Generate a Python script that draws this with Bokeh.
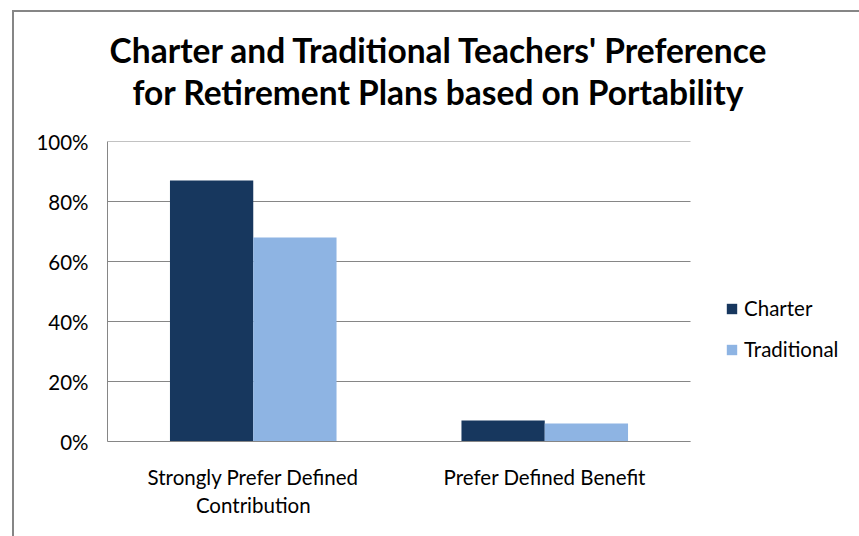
from bokeh.plotting import figure
from bokeh.layouts import column
from bokeh.models import (Range1d, FixedTicker, NumeralTickFormatter,
                          Legend, LegendItem, Div, ColumnDataSource)
from bokeh.transform import dodge
from bokeh.embed import file_html
from bokeh.resources import INLINE

# ---- data ----
categories = ["Strongly Prefer Defined Contribution", "Prefer Defined Benefit"]
category_labels = ["Strongly Prefer Defined\nContribution", "Prefer Defined Benefit"]
series_names = ["Charter", "Traditional"]
charter = [0.87, 0.07]
traditional = [0.68, 0.06]
y_ticks = [0.0, 0.2, 0.4, 0.6, 0.8, 1.0]
title_lines = ["Charter and Traditional Teachers' Preference",
               "for Retirement Plans based on Portability"]

# ---- style ----
FONT = "Lato"
FS = "20.5px"
C_CHARTER = "#17375E"
C_TRAD = "#8EB4E3"
GRAY = "#868686"

FIG_W, FIG_H = 845, 424
BORDER_L = 93          # px left of plot area
PLOT_W = 583           # px width of the category area
FRAME_W = FIG_W - BORDER_L   # frame runs to the right edge (room for the legend)
n = len(categories)
x_end = n * FRAME_W / PLOT_W

x_pos = [i + 0.5 for i in range(n)]
source = ColumnDataSource(dict(x=x_pos, cat=categories, charter=charter, traditional=traditional))

p = figure(width=FIG_W, height=FIG_H, x_range=Range1d(0, x_end), y_range=Range1d(0, 1),
           output_backend="svg", toolbar_location=None, title=None,
           min_border_left=BORDER_L, min_border_right=0, min_border_top=29, min_border_bottom=95,
           margin=0)
p.outline_line_color = None
p.background_fill_color = "white"
p.border_fill_color = "white"

# horizontal gridlines limited to the category area
gsrc = ColumnDataSource(dict(y=y_ticks, x0=[0] * len(y_ticks), x1=[n] * len(y_ticks)))
p.segment(x0="x0", x1="x1", y0="y", y1="y", source=gsrc, line_color=GRAY, line_width=1)
p.xgrid.grid_line_color = None
p.ygrid.grid_line_color = None

bw = 0.2857
r1 = p.vbar(x=dodge("x", -bw / 2), top="charter", width=bw,
            source=source, fill_color=C_CHARTER, line_color=None)
r2 = p.vbar(x=dodge("x", bw / 2), top="traditional", width=bw,
            source=source, fill_color=C_TRAD, line_color=None)

# y axis
p.yaxis.ticker = FixedTicker(ticks=y_ticks)
p.yaxis.formatter = NumeralTickFormatter(format="0%")
p.yaxis.axis_line_color = GRAY
p.yaxis.major_tick_line_color = None
p.yaxis.minor_tick_line_color = None
p.yaxis.major_tick_out = 0
p.yaxis.major_tick_in = 0
p.yaxis.major_label_standoff = 19
p.yaxis.major_label_text_font = FONT
p.yaxis.major_label_text_font_size = FS
p.yaxis.major_label_text_color = "black"

# x axis
p.xaxis.ticker = FixedTicker(ticks=x_pos)
p.xaxis.major_label_overrides = {x: lab for x, lab in zip(x_pos, category_labels)}
p.xaxis.bounds = (0, n)
p.xaxis.axis_line_color = GRAY
p.xaxis.major_tick_line_color = None
p.xaxis.minor_tick_line_color = None
p.xaxis.major_tick_out = 0
p.xaxis.major_tick_in = 0
p.xaxis.major_label_standoff = 23
p.xaxis.major_label_text_font = FONT
p.xaxis.major_label_text_font_size = FS
p.xaxis.major_label_text_color = "black"
p.xaxis.major_label_text_align = "center"

legend = Legend(items=[LegendItem(label=series_names[0], renderers=[r1]),
                       LegendItem(label=series_names[1], renderers=[r2])],
                location=(PLOT_W + 35, 80), glyph_width=13, glyph_height=13,
                label_text_font=FONT, label_text_font_size=FS, label_height=20,
                label_text_color="black",
                spacing=17, padding=0, margin=0, border_line_color=None,
                background_fill_alpha=0, label_standoff=6)
p.add_layout(legend, "center")

title = Div(text="<br>".join(title_lines), width=FIG_W, height=100, margin=0,
            styles={"font-family": FONT, "font-weight": "bold", "font-size": "33.5px",
                    "line-height": "42px", "text-align": "center", "color": "black",
                    "padding-top": "17px", "padding-left": "3px", "box-sizing": "border-box",
                    "width": "845px"})

layout = column(title, p, spacing=0, margin=(10, 0, 0, 12),
                styles={"border-left": "2px solid #868686", "border-top": "2px solid #868686",
                        "background-color": "white"})

open("out.html", "w").write(file_html(layout, INLINE))
